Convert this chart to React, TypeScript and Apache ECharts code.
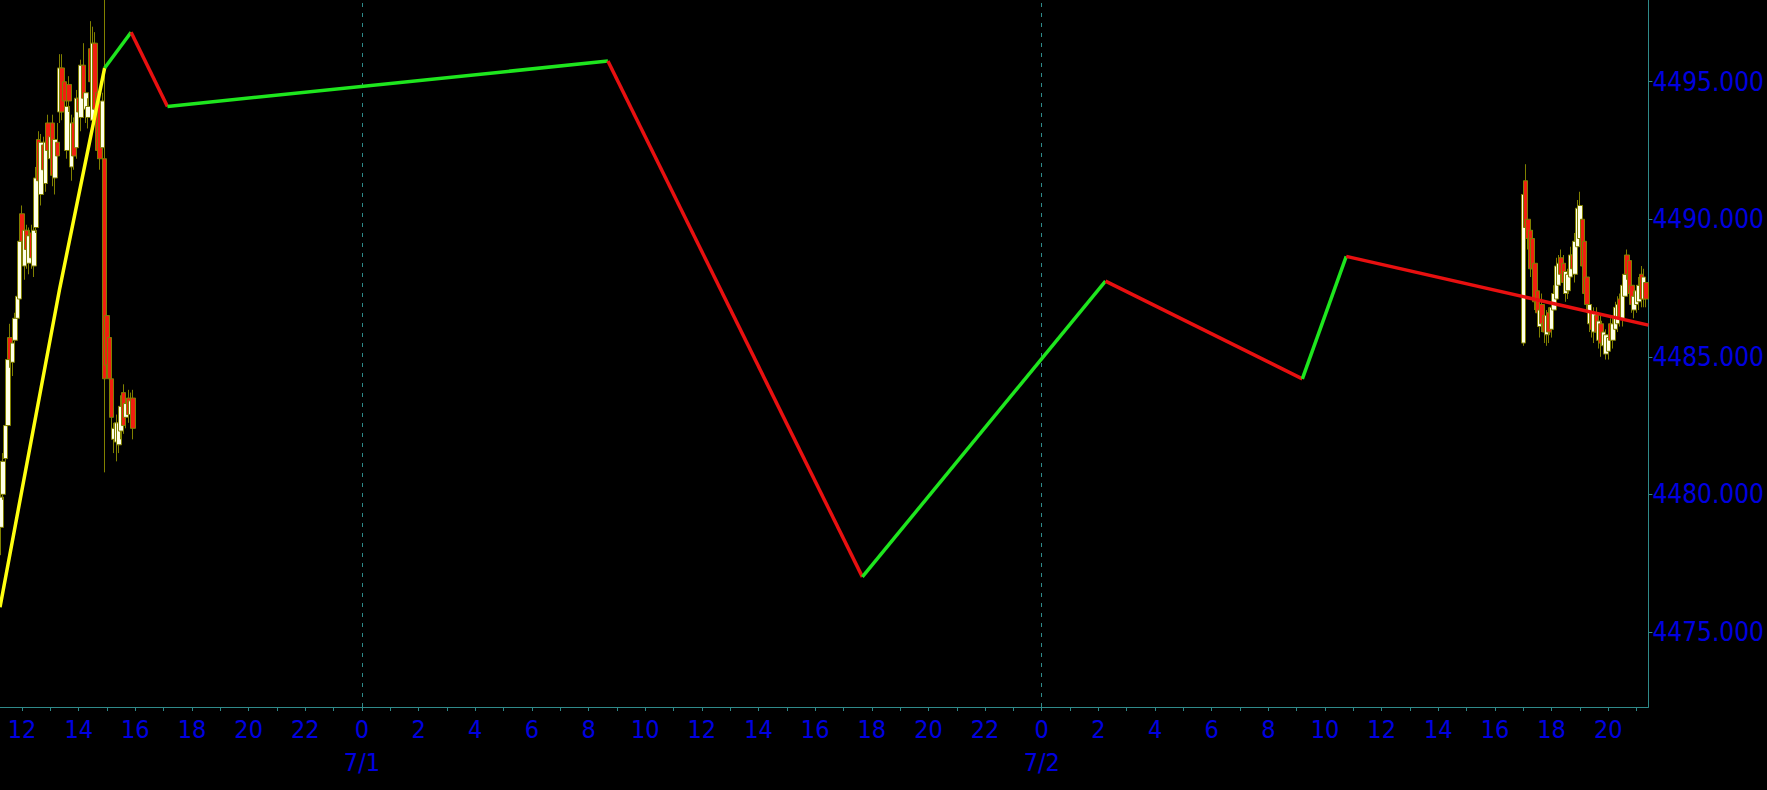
import React, { useEffect, useRef } from "react";
import * as echarts from "echarts";

// ---- Data -------------------------------------------------------------
const BAR_MINUTES = 5;

// Session A: 2023-06-30, 5-minute bars starting 11:10
const SESSION_A_START = "2023-06-30 11:10";
const SESSION_A_OPEN = [
  4477.8, 4478.8, 4480.0, 4481.3, 4482.5, 4485.7, 4484.8, 4485.6, 4486.4, 4487.1,
  4490.2, 4488.3, 4489.6, 4488.4, 4489.5, 4488.3, 4489.7, 4492.9, 4490.9, 4492.7,
  4491.3, 4493.5, 4492.2, 4493.5, 4491.5, 4492.8, 4493.9, 4495.5, 4495.0, 4492.5,
  4494.9, 4491.9, 4493.5, 4492.6, 4494.4, 4493.7, 4495.6, 4494.0, 4493.7, 4496.2,
  4493.6, 4496.4, 4494.6, 4494.2, 4492.6, 4492.2, 4486.5, 4485.7, 4484.2, 4482.0,
  4481.9, 4481.8, 4482.3, 4483.7, 4482.8, 4483.5, 4482.9, 4483.5,
];
const SESSION_A_CLOSE = [
  4478.6, 4479.9, 4481.2, 4482.5, 4484.9, 4484.9, 4485.5, 4486.4, 4487.2, 4489.2,
  4489.2, 4489.6, 4488.9, 4489.4, 4488.6, 4489.6, 4491.5, 4491.4, 4492.8, 4491.8,
  4492.8, 4492.5, 4493.0, 4491.6, 4492.9, 4492.3, 4495.5, 4493.9, 4494.3, 4494.1,
  4494.3, 4493.5, 4492.3, 4494.4, 4493.9, 4495.6, 4494.4, 4494.6, 4494.1, 4495.0,
  4496.4, 4494.0, 4492.5, 4492.2, 4494.3, 4484.2, 4484.7, 4484.2, 4482.8, 4482.4,
  4482.6, 4482.6, 4483.2, 4482.5, 4483.3, 4482.9, 4483.4, 4482.4,
];
const SESSION_A_LOW = [
  4477.2, 4478.5, 4479.8, 4481.0, 4482.2, 4484.6, 4484.3, 4485.3, 4486.1, 4486.9,
  4488.9, 4487.8, 4488.2, 4488.0, 4488.2, 4487.9, 4489.5, 4490.8, 4490.5, 4491.0,
  4491.0, 4492.0, 4491.6, 4491.2, 4490.9, 4491.9, 4493.5, 4493.6, 4494.0, 4492.2,
  4493.9, 4491.4, 4491.8, 4492.2, 4493.5, 4493.2, 4494.1, 4493.5, 4493.3, 4494.7,
  4493.2, 4493.6, 4492.2, 4491.8, 4492.0, 4480.8, 4484.3, 4483.8, 4482.4, 4481.5,
  4481.2, 4481.5, 4482.0, 4482.2, 4482.4, 4482.6, 4482.5, 4482.0,
];
const SESSION_A_HIGH = [
  4479.0, 4480.3, 4481.5, 4482.8, 4485.2, 4486.2, 4485.9, 4486.6, 4487.5, 4489.5,
  4490.5, 4489.9, 4489.8, 4489.7, 4489.8, 4490.0, 4491.9, 4493.2, 4493.1, 4493.0,
  4493.1, 4493.8, 4493.3, 4493.8, 4493.2, 4493.5, 4496.0, 4496.0, 4495.4, 4494.4,
  4495.2, 4493.8, 4493.7, 4494.7, 4494.6, 4495.8, 4496.4, 4494.9, 4494.4, 4497.2,
  4497.0, 4496.8, 4494.9, 4494.5, 4494.6, 4498.5, 4486.8, 4486.0, 4484.5, 4482.6,
  4482.9, 4482.9, 4483.6, 4484.0, 4483.5, 4483.8, 4483.7, 4483.8,
];

// Session B: 2023-07-02, 5-minute bars starting 17:00
const SESSION_B_START = "2023-07-02 17:00";
const SESSION_B_OPEN = [
  4485.5, 4491.4, 4490.0, 4489.6, 4489.3, 4488.4, 4487.4, 4486.1, 4486.9, 4486.5,
  4485.8, 4486.6, 4486.0, 4486.7, 4487.1, 4487.6, 4488.6, 4488.4, 4487.3, 4487.4,
  4487.9, 4488.7, 4488.0, 4489.0, 4489.3, 4490.0, 4489.2, 4487.9, 4486.2, 4486.6,
  4485.9, 4486.5, 4485.6, 4486.2, 4485.4, 4485.1, 4485.2, 4486.2, 4485.6, 4486.0,
  4486.2, 4487.1, 4486.4, 4487.2, 4488.7, 4488.5, 4487.6, 4486.7, 4486.9, 4487.0,
  4488.0, 4487.1, 4487.7,
];
const SESSION_B_CLOSE = [
  4490.9, 4489.7, 4489.3, 4488.2, 4488.2, 4487.0, 4486.6, 4486.7, 4486.2, 4485.9,
  4486.5, 4485.9, 4486.8, 4487.3, 4488.3, 4488.4, 4488.0, 4487.7, 4488.1, 4488.0,
  4488.7, 4488.2, 4489.2, 4490.4, 4490.5, 4488.3, 4487.3, 4486.9, 4486.9, 4486.0,
  4486.6, 4485.9, 4486.3, 4485.5, 4485.9, 4485.8, 4485.7, 4485.6, 4486.2, 4486.8,
  4486.9, 4486.4, 4487.6, 4488.0, 4488.0, 4487.3, 4486.9, 4487.2, 4487.4, 4487.6,
  4487.1, 4487.9, 4487.1,
];
const SESSION_B_LOW = [
  4485.4, 4489.4, 4488.9, 4487.9, 4487.9, 4486.7, 4486.2, 4485.7, 4485.9, 4485.5,
  4485.4, 4485.5, 4485.7, 4486.4, 4486.9, 4487.3, 4487.7, 4487.3, 4487.0, 4487.1,
  4487.6, 4487.9, 4487.7, 4488.7, 4489.0, 4488.0, 4487.0, 4486.6, 4485.9, 4485.7,
  4485.5, 4485.6, 4485.3, 4485.0, 4485.1, 4484.9, 4484.9, 4485.3, 4485.3, 4485.7,
  4485.9, 4486.1, 4486.1, 4486.9, 4487.8, 4487.0, 4486.6, 4486.4, 4486.6, 4486.7,
  4486.8, 4486.8, 4486.8,
];
const SESSION_B_HIGH = [
  4491.1, 4492.0, 4490.3, 4489.8, 4489.6, 4488.6, 4487.6, 4487.0, 4487.3, 4486.8,
  4486.7, 4486.8, 4487.1, 4487.6, 4488.6, 4488.7, 4488.9, 4488.7, 4488.4, 4488.2,
  4489.0, 4489.0, 4489.5, 4490.7, 4491.0, 4490.4, 4489.5, 4488.1, 4487.1, 4486.9,
  4486.8, 4486.8, 4486.6, 4486.5, 4486.2, 4486.0, 4486.0, 4486.4, 4486.5, 4487.0,
  4487.2, 4487.3, 4487.9, 4488.2, 4488.9, 4488.7, 4487.8, 4487.4, 4487.6, 4487.9,
  4488.3, 4488.2, 4487.9,
];

// Zigzag swing points
const ZIGZAG_TIMES = [
  "2023-06-30 14:55", "2023-06-30 15:51", "2023-06-30 17:08", "2023-07-01 08:41",
  "2023-07-01 17:40", "2023-07-02 02:15", "2023-07-02 09:12", "2023-07-02 10:45",
  "2023-07-02 21:25:05",
];
const ZIGZAG_VALUES = [4495.5, 4496.8, 4494.1, 4495.75, 4477.0, 4487.75, 4484.2, 4488.65, 4486.15];

// Yellow trend line
const TREND_TIMES = ["2023-06-30 11:13:19", "2023-06-30 13:20", "2023-06-30 14:55"];
const TREND_VALUES = [4475.9, 4487.5, 4495.5];

// Axes
const X_MIN = "2023-06-30 11:13:19";
const X_MAX = "2023-07-02 21:25:05";
const FIRST_HOUR = "2023-06-30 12:00";
const DAY_LINES = ["2023-07-01 00:00", "2023-07-02 00:00"];
const Y_MIN = 4472.27;
const Y_MAX = 4497.97;
const PRICE_TICKS = [4475, 4480, 4485, 4490, 4495];

// ---- Helpers ----------------------------------------------------------
function toMs(s: string): number {
  const [d, t] = s.split(" ");
  const [y, mo, da] = d.split("-").map(Number);
  const [h, mi, se] = (t || "0:0:0").split(":").map(Number);
  return new Date(y, mo - 1, da, h || 0, mi || 0, se || 0).getTime();
}

function buildCandles(start: string, o: number[], c: number[], l: number[], h: number[]) {
  const t0 = toMs(start);
  return o.map((_, i) => [t0 + i * BAR_MINUTES * 60000, o[i], c[i], l[i], h[i]]);
}

const FONT = "'DejaVu Sans Condensed', 'Liberation Sans', sans-serif";
const BLUE = "#0000E0";
const TEAL = "#2F8A8A";

export default function App() {
  const ref = useRef<HTMLDivElement | null>(null);

  useEffect(() => {
    if (!ref.current) return;
    const chart = echarts.init(ref.current, null, { renderer: "svg" });

    const candles = [
      ...buildCandles(SESSION_A_START, SESSION_A_OPEN, SESSION_A_CLOSE, SESSION_A_LOW, SESSION_A_HIGH),
      ...buildCandles(SESSION_B_START, SESSION_B_OPEN, SESSION_B_CLOSE, SESSION_B_LOW, SESSION_B_HIGH),
    ];

    const xMin = toMs(X_MIN);
    const xMax = toMs(X_MAX);
    const hourTicks: number[] = [];
    for (let t = toMs(FIRST_HOUR); t <= xMax; t += 3600000) hourTicks.push(t);
    const labelTicks = hourTicks.filter((t) => new Date(t).getHours() % 2 === 0);

    const segSeries: any[] = [];
    for (let i = 0; i < ZIGZAG_TIMES.length - 1; i++) {
      const up = ZIGZAG_VALUES[i + 1] > ZIGZAG_VALUES[i];
      segSeries.push({
        type: "line",
        silent: true,
        showSymbol: false,
        symbol: "none",
        z: 6,
        data: [
          [toMs(ZIGZAG_TIMES[i]), ZIGZAG_VALUES[i]],
          [toMs(ZIGZAG_TIMES[i + 1]), ZIGZAG_VALUES[i + 1]],
        ],
        lineStyle: { color: up ? "#1EE61E" : "#E81010", width: 3.5 },
      });
    }

    chart.setOption({
      animation: false,
      backgroundColor: "#000000",
      grid: { left: 0, right: 116.5, top: 0, bottom: 83, containLabel: false },
      xAxis: {
        type: "value",
        min: xMin,
        max: xMax,
        scale: true,
        axisLine: { show: true, lineStyle: { color: TEAL, width: 1 } },
        axisTick: { show: true, length: 4, customValues: hourTicks, lineStyle: { color: TEAL } },
        splitLine: { show: false },
        axisLabel: {
          customValues: labelTicks,
          color: BLUE,
          fontFamily: FONT,
          fontSize: 25,
          lineHeight: 33,
          margin: 6,
          hideOverlap: false,
          formatter: (v: number) => {
            const d = new Date(v);
            const h = d.getHours();
            return h === 0 ? `0\n${d.getMonth() + 1}/${d.getDate()}` : String(h);
          },
        },
      },
      yAxis: {
        type: "value",
        position: "right",
        min: Y_MIN,
        max: Y_MAX,
        scale: true,
        axisLine: { show: true, lineStyle: { color: TEAL, width: 1 } },
        axisTick: { show: true, length: 4, customValues: PRICE_TICKS, lineStyle: { color: TEAL } },
        splitLine: { show: false },
        axisLabel: {
          customValues: PRICE_TICKS,
          color: BLUE,
          fontFamily: FONT,
          fontSize: 26,
          margin: 4,
          formatter: (v: number) => v.toFixed(3),
        },
      },
      series: [
        {
          type: "candlestick",
          data: candles,
          barWidth: 5,
          z: 3,
          clip: true,
          itemStyle: {
            color: "#FFFFE8",
            color0: "#F02010",
            borderColor: "#808000",
            borderColor0: "#808000",
            borderWidth: 1,
          },
          markLine: {
            silent: true,
            symbol: ["none", "none"],
            label: { show: false },
            lineStyle: { color: TEAL, type: [4, 6], width: 1 },
            data: DAY_LINES.map((t) => ({ xAxis: toMs(t) })),
          },
        },
        {
          type: "line",
          silent: true,
          showSymbol: false,
          symbol: "none",
          z: 5,
          data: TREND_TIMES.map((t, i) => [toMs(t), TREND_VALUES[i]]),
          lineStyle: { color: "#FFFF10", width: 3.5 },
        },
        ...segSeries,
      ],
    });

    return () => chart.dispose();
  }, []);

  return (
    <div
      ref={ref}
      style={{ position: "fixed", left: 0, top: 0, width: 1767, height: 790, background: "#000" }}
    />
  );
}
